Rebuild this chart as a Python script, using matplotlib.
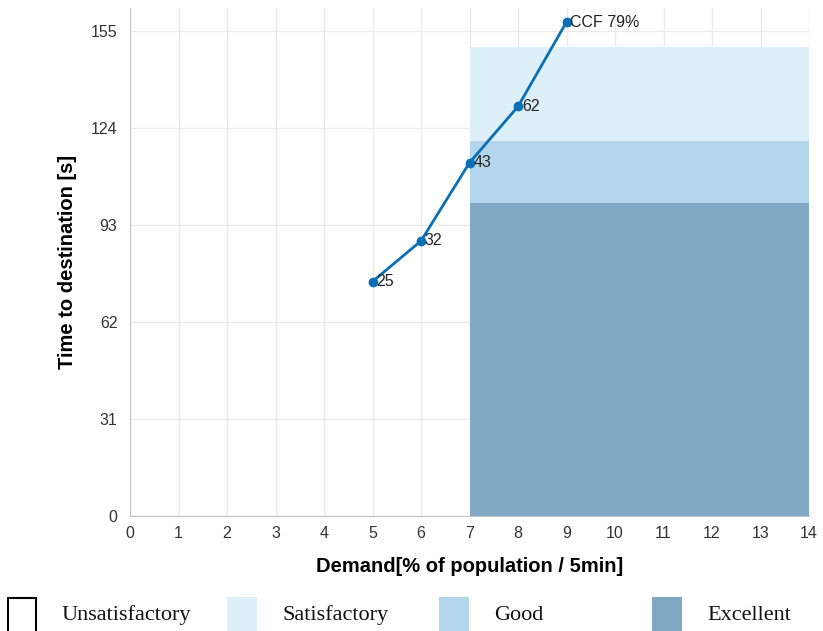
import matplotlib
matplotlib.use("Agg")
import matplotlib.pyplot as plt
from matplotlib.patches import Rectangle

demand = [5, 6, 7, 8, 9]
time_s = [75, 88, 113, 131, 158]
point_labels = ["25", "32", "43", "62", "CCF 79%"]

band_names = ["Unsatisfactory", "Satisfactory", "Good", "Excellent"]
band_colors = ["#ffffff", "#ddeff8", "#b3d6ec", "#82a9c4"]
band_x = (7, 14)
band_tops = [None, 150, 120, 100]  # Satisfactory, Good, Excellent upper bounds

yticks = [0, 31, 62, 93, 124, 155]
xticks = list(range(0, 15))

fig = plt.figure(figsize=(8.23, 6.31), dpi=100)
ax = fig.add_axes([130/823, 115/631, 679/823, 508/631])

for name, col, top in zip(band_names[1:], band_colors[1:], band_tops[1:]):
    ax.fill_between(band_x, 0, top, color=col, zorder=1, linewidth=0)

ax.plot(demand, time_s, color="#0b6fb5", linewidth=2, marker="o", markersize=6, zorder=3)
for x, y, t in zip(demand, time_s, point_labels):
    ax.text(x + 0.08, y, t, fontsize=11.5, va="center", ha="left", color="#222222",
            family="Liberation Sans", zorder=4)

ax.set_xlim(0, 14)
ax.set_ylim(0, 162.5)
ax.set_xticks(xticks)
ax.set_yticks(yticks)
ax.grid(True, color="#ebebeb", linewidth=1, zorder=0)
ax.set_axisbelow(True)
for s in ["top", "right"]:
    ax.spines[s].set_visible(False)
for s in ["left", "bottom"]:
    ax.spines[s].set_color("#c0c4c8")
ax.tick_params(length=0, labelsize=11.5, colors="#333333")
ax.tick_params(axis="y", pad=9)
ax.tick_params(axis="x", pad=7)
for lab in ax.get_xticklabels() + ax.get_yticklabels():
    lab.set_family("Liberation Sans")

ax.set_xlabel("Demand[% of population / 5min]", fontsize=14.5, fontweight="bold",
              family="Liberation Sans", labelpad=12)
ax.set_ylabel("Time to destination [s]", fontsize=14.5, fontweight="bold",
              family="Liberation Sans", labelpad=10)

box_x = [8, 228, 440, 653]
for name, col, bx in zip(band_names, band_colors, box_x):
    ec = "#000000" if col == "#ffffff" else col
    fig.add_artist(Rectangle((bx/823, -2/631), 28/823, 35/631, transform=fig.transFigure,
                             facecolor=col, edgecolor=ec, linewidth=1.5))
    fig.text((bx + 54)/823, 16/631, name, fontsize=16, family="Liberation Serif",
             va="center", ha="left", color="#111111")

fig.savefig("out.png", dpi=100)
